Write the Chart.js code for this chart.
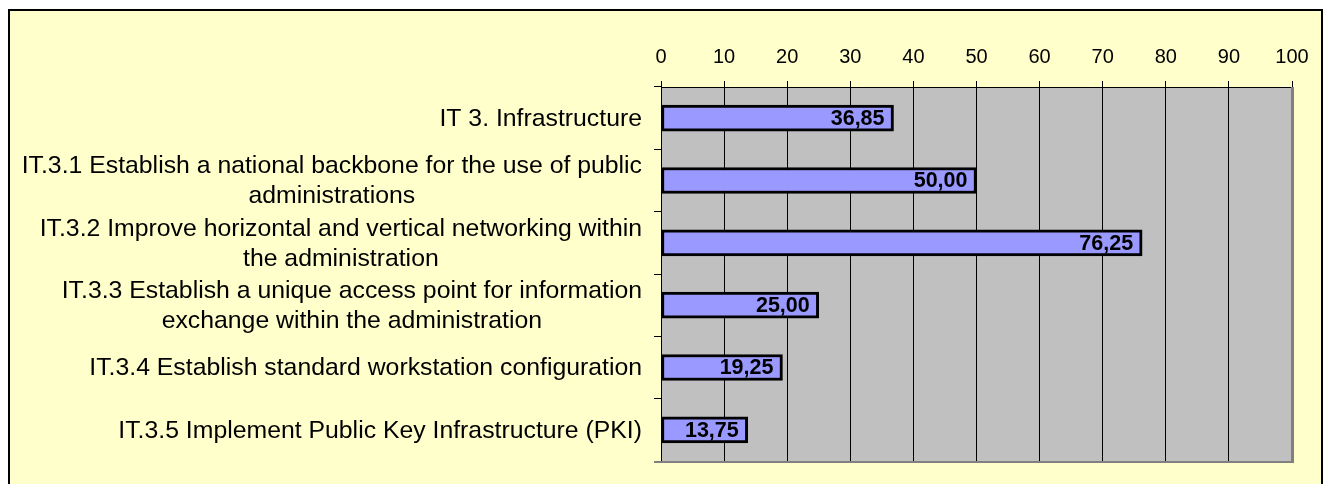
<!DOCTYPE html>
<html>
<head>
<meta charset="utf-8">
<script src="https://cdn.jsdelivr.net/npm/chart.js@4/dist/chart.umd.min.js"></script>
<style>
  body { margin: 0; background: #fff; }
  #wrap { width: 1325px; height: 484px; }
</style>
</head>
<body>
<div id="wrap"><canvas id="grafico"></canvas></div>
<script>
const categorias = [
  ["IT 3. Infrastructure"],
  ["IT.3.1 Establish a national backbone for the use of public", "administrations"],
  ["IT.3.2 Improve horizontal and vertical networking within", "the administration"],
  ["IT.3.3 Establish a unique access point for information", "exchange within the administration"],
  ["IT.3.4 Establish standard workstation configuration"],
  ["IT.3.5 Implement Public Key Infrastructure (PKI)"],
];
const valores = [36.85, 50.0, 76.25, 25.0, 19.25, 13.75];
const escalaMin = 0;
const escalaMax = 100;
const escalaPaso = 10;

// fondo: marco amarillo y area gris
const fondo = {
  id: "fondo",
  beforeDraw(chart) {
    const ctx = chart.ctx;
    const a = chart.chartArea;
    ctx.save();
    ctx.fillStyle = "#ffffff";
    ctx.fillRect(0, 0, chart.width, chart.height);
    ctx.fillStyle = "#FFFFCC";
    ctx.fillRect(9, 10, 1313, 500);
    ctx.strokeStyle = "#000";
    ctx.lineWidth = 2;
    ctx.strokeRect(9, 10, 1313, 500);
    ctx.fillStyle = "#C0C0C0";
    ctx.fillRect(a.left, a.top, a.right - a.left, a.bottom - a.top);
    ctx.restore();
  },
  afterDraw(chart) {
    const ctx = chart.ctx;
    const a = chart.chartArea;
    const y = chart.scales.y;
    ctx.save();
    // borde gris derecho e inferior
    ctx.fillStyle = "#808080";
    ctx.fillRect(a.right - 1, a.top, 3, a.bottom - a.top + 2);
    ctx.fillRect(a.left - 7, a.bottom, a.right - a.left + 9, 2);
    // etiquetas de categoria centradas por bloque
    ctx.font = "24.8px 'Liberation Sans', Arial, sans-serif";
    ctx.fillStyle = "#000";
    ctx.textAlign = "center";
    ctx.textBaseline = "middle";
    const derecha = a.left - 19;
    categorias.forEach((lineas, i) => {
      const cy = y.getPixelForValue(i);
      const ancho = Math.max(...lineas.map((l) => ctx.measureText(l).width));
      const cx = derecha - ancho / 2;
      lineas.forEach((l, j) => {
        ctx.fillText(l, cx, cy + 1 + (j - (lineas.length - 1) / 2) * 30);
      });
    });
    ctx.restore();
  },
};

// valores dentro de la barra
const etiquetas = {
  id: "etiquetas",
  afterDatasetsDraw(chart) {
    const ctx = chart.ctx;
    const meta = chart.getDatasetMeta(0);
    ctx.save();
    ctx.font = "bold 21.5px 'Liberation Sans', Arial, sans-serif";
    ctx.fillStyle = "#000";
    ctx.textAlign = "right";
    ctx.textBaseline = "middle";
    meta.data.forEach((bar, i) => {
      const txt = valores[i].toFixed(2).replace(".", ",");
      ctx.fillText(txt, bar.x - 9, bar.y + 1);
    });
    ctx.restore();
  },
};

new Chart(document.getElementById("grafico"), {
  type: "bar",
  data: {
    labels: categorias,
    datasets: [
      {
        data: valores,
        backgroundColor: "#9999FF",
        borderColor: "#000000",
        borderWidth: 3,
        borderSkipped: false,
        barThickness: 26,
      },
    ],
  },
  options: {
    indexAxis: "y",
    responsive: true,
    maintainAspectRatio: false,
    animation: false,
    layout: { padding: { left: 0, right: 33, top: 0, bottom: 23 } },
    plugins: {
      legend: { display: false },
      tooltip: { enabled: false },
    },
    scales: {
      x: {
        position: "top",
        min: escalaMin,
        max: escalaMax,
        afterFit: (s) => {
          s.height = 87;
        },
        ticks: {
          stepSize: escalaPaso,
          padding: 12,
          color: "#000",
          font: { family: "'Liberation Sans', Arial, sans-serif", size: 20 },
        },
        grid: {
          color: "#000",
          lineWidth: 1,
          tickLength: 6,
          tickColor: "#000",
        },
        border: { color: "#000", width: 1 },
      },
      y: {
        afterFit: (s) => {
          s.width = 661;
        },
        ticks: { display: false },
        grid: {
          offset: true,
          drawOnChartArea: false,
          tickLength: 7,
          tickColor: "#000",
          color: "#000",
        },
        border: { color: "#000", width: 1 },
      },
    },
  },
  plugins: [fondo, etiquetas],
});
</script>
</body>
</html>
